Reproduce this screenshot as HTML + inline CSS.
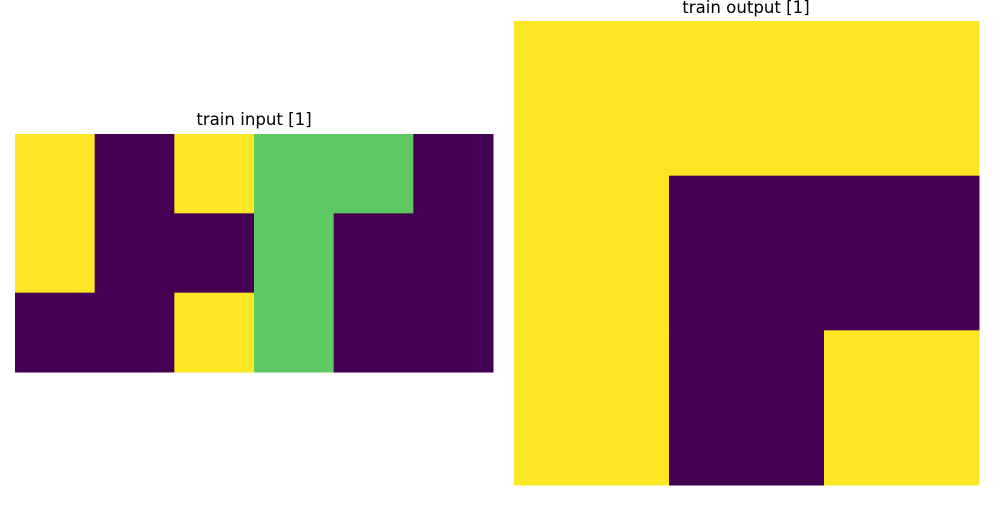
<!DOCTYPE html>
<html><head><meta charset="utf-8">
<style>
body{margin:0;background:#fff;width:1000px;height:500px;overflow:hidden;font-family:"Liberation Sans",sans-serif;}
svg text{font-family:"DejaVu Sans","Liberation Sans",sans-serif;font-size:16.6px;fill:#000;}
</style></head>
<body>
<svg id="chart" width="1000" height="500" xmlns="http://www.w3.org/2000/svg">
<text x="254" y="125" text-anchor="middle">train input [1]</text>
<text x="746" y="13" text-anchor="middle">train output [1]</text>
<g id="gin"></g>
<g id="gout"></g>
</svg>
<script>
const palette = {0:'#440154',1:'#5ec962',2:'#fde725'};
const inputGrid = [
  [2,0,2,1,1,0],
  [2,0,0,1,0,0],
  [0,0,2,1,0,0]
];
const outputGrid = [
  [2,2,2],
  [2,0,0],
  [2,0,2]
];
function draw(g, grid, x0, y0, w, h, name){
  const rows = grid.length, cols = grid[0].length;
  const cw = w/cols, ch = h/rows;
  grid.forEach((row,r)=>row.forEach((v,c)=>{
    const el = document.createElementNS('http://www.w3.org/2000/svg','rect');
    el.setAttribute('x', x0 + c*cw);
    el.setAttribute('y', y0 + r*ch);
    el.setAttribute('width', cw + 0.5);
    el.setAttribute('height', ch + 0.5);
    el.setAttribute('fill', palette[v]);
    
    
    g.appendChild(el);
  }));
}
draw(document.getElementById('gin'), inputGrid, 15, 134, 478, 238, 'input');
draw(document.getElementById('gout'), outputGrid, 514, 21, 465, 464, 'output');
</script>
</body></html>
